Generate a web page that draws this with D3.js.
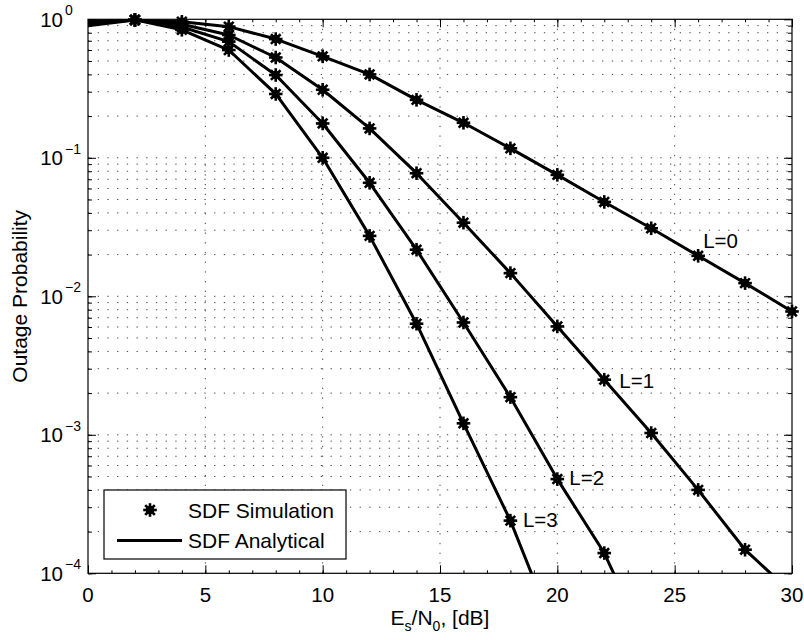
<!DOCTYPE html>
<html><head><meta charset="utf-8">
<script src="https://cdn.jsdelivr.net/npm/d3@7"></script>
<style>
body{margin:0;background:#fff}
text{font-family:"Liberation Sans",Arial,Helvetica,sans-serif;fill:#000}
</style>
</head><body>
<svg id="c" width="804" height="640"></svg>
<script>
// ---- data ----
const snrDb = [0, 2, 4, 6, 8, 10, 12, 14, 16, 18, 20, 22, 24, 26, 28, 30];
const outageL0 = [0.97, 0.99, 0.96, 0.885, 0.72, 0.54, 0.40, 0.262, 0.179, 0.117, 0.0753, 0.048, 0.031, 0.0196, 0.01245, 0.00777];
const outageL1 = [0.95, 0.99, 0.92, 0.77, 0.53, 0.31, 0.163, 0.0774, 0.034, 0.0147, 0.00606, 0.0025, 0.00103, 0.0004, 0.000148, 0.000072];
const outageL2 = [0.93, 0.99, 0.88, 0.69, 0.396, 0.177, 0.066, 0.0217, 0.00647, 0.00187, 0.000479, 0.00014, 0.000026, null, null, null];
const outageL3 = [0.90, 0.99, 0.84, 0.60, 0.289, 0.100, 0.0273, 0.00634, 0.00121, 0.00024, 0.000034, null, null, null, null, null];
const seriesLabels = ["L=0", "L=1", "L=2", "L=3"];
const labelAtSnr = [26, 22, 20, 18];
const xTickValues = [0, 5, 10, 15, 20, 25, 30];
const yTickExponents = [0, -1, -2, -3, -4];
const legendLabels = ["SDF Simulation", "SDF Analytical"];
const xAxisTitle = ["E", "s", "/N", "0", ", [dB]"];
const yAxisTitle = "Outage Probability";

// ---- layout ----
const svg = d3.select("#c");
const L = 88, R = 792, T = 19.3, B = 573.3;
const x = d3.scaleLinear().domain([0, 30]).range([L, R]);
const y = d3.scaleLog().domain([1e-4, 1]).range([B, T]);

svg.append("rect").attr("width", 804).attr("height", 640).attr("fill", "#fff");

// grid
const minorY = [];
for (let e = -4; e < 0; e++) for (let m = 1; m < 10; m++) minorY.push(m * Math.pow(10, e));
const g = svg.append("g");
g.selectAll("line.hy").data(minorY.filter(v => v > 1e-4 * 1.0001)).join("line")
  .attr("x1", L).attr("x2", R).attr("y1", d => y(d)).attr("y2", d => y(d))
  .attr("stroke", "#444").attr("stroke-width", 1).attr("stroke-dasharray", "1.3,8.4");
g.selectAll("line.vx").data(xTickValues.filter(v => v > 0 && v < 30)).join("line")
  .attr("y1", B).attr("y2", T).attr("x1", d => x(d)).attr("x2", d => x(d))
  .attr("stroke", "#444").attr("stroke-width", 1).attr("stroke-dasharray", "1.3,8.4");

// axes (ticks inward)
const minorX = d3.range(0, 31, 1);
function axisG(gen, tx, ty) {
  const a = svg.append("g").attr("transform", `translate(${tx},${ty})`).call(gen);
  a.select(".domain").remove();
  a.selectAll("text").remove();
  a.selectAll("line").attr("stroke", "#000");
  return a;
}
axisG(d3.axisBottom(x).tickValues(minorX).tickSize(-3).tickFormat(""), 0, B);
axisG(d3.axisTop(x).tickValues(minorX).tickSize(-3).tickFormat(""), 0, T);
axisG(d3.axisBottom(x).tickValues(xTickValues).tickSize(-8).tickFormat(""), 0, B);
axisG(d3.axisTop(x).tickValues(xTickValues).tickSize(-8).tickFormat(""), 0, T);
axisG(d3.axisLeft(y).tickValues(minorY).tickSize(-4).tickFormat(""), L, 0);
axisG(d3.axisRight(y).tickValues(minorY).tickSize(-4).tickFormat(""), R, 0);
const majorY = yTickExponents.map(e => Math.pow(10, e));
axisG(d3.axisLeft(y).tickValues(majorY).tickSize(-8).tickFormat(""), L, 0);
axisG(d3.axisRight(y).tickValues(majorY).tickSize(-8).tickFormat(""), R, 0);

svg.append("rect").attr("x", L).attr("y", T).attr("width", R - L).attr("height", B - T)
  .attr("fill", "none").attr("stroke", "#000").attr("stroke-width", 1.2);

// tick labels
svg.append("g").selectAll("text").data(xTickValues).join("text")
  .attr("x", d => x(d)).attr("y", 602).attr("text-anchor", "middle")
  .attr("font-size", 20.5).text(d => d);
const yl = svg.append("g").selectAll("g").data(yTickExponents).join("g");
yl.append("text").attr("x", 63).attr("y", d => y(Math.pow(10, d)) + 7.5)
  .attr("text-anchor", "end").attr("font-size", 20.5).text("10");
yl.append("text").attr("x", 65).attr("y", d => y(Math.pow(10, d)) - 4)
  .attr("text-anchor", "start").attr("font-size", 14).text(d => d === 0 ? "0" : "\u2212" + (-d));

// axis titles
const xt = svg.append("text").attr("x", x(15)).attr("y", 625).attr("text-anchor", "middle").attr("font-size", 21);
xAxisTitle.forEach((s, i) => {
  const sub = i % 2 === 1;
  xt.append("tspan").attr("font-size", sub ? 14 : 21)
    .attr("dy", sub ? 6 : (i > 0 ? -6 : 0)).text(s);
});
svg.append("text").attr("transform", `translate(27,${(T + B) / 2}) rotate(-90)`)
  .attr("text-anchor", "middle").attr("font-size", 21).text(yAxisTitle);

// series
const allSeries = [outageL0, outageL1, outageL2, outageL3].map((vals, i) => ({
  name: seriesLabels[i],
  pts: snrDb.map((s, j) => ({ x: s, v: vals[j] }))
}));
svg.append("clipPath").attr("id", "clip").append("rect")
  .attr("x", L).attr("y", T).attr("width", R - L).attr("height", B - T);
const line = d3.line().defined(d => d.v != null).x(d => x(d.x)).y(d => y(d.v));
svg.append("g").attr("clip-path", "url(#clip)").selectAll("path").data(allSeries).join("path")
  .attr("d", d => line(d.pts)).attr("fill", "none").attr("stroke", "#000")
  .attr("stroke-width", 3).attr("stroke-linejoin", "round");

function marker(sel) {
  sel.append("circle").attr("r", 4.3).attr("fill", "#000");
  [0, 45, 90, 135].forEach(a => {
    sel.append("line").attr("x1", -6.8).attr("x2", 6.8)
      .attr("transform", `rotate(${a})`).attr("stroke", "#000").attr("stroke-width", 2.6);
  });
}
allSeries.forEach(s => {
  svg.append("g").selectAll("g").data(s.pts.filter(p => p.v != null && p.x > 0 && p.v >= 1e-4)).join("g")
    .attr("transform", p => `translate(${x(p.x)},${y(p.v)})`).each(function () { marker(d3.select(this)); });
});

// curve labels
const labelOffsets = [[5, -8], [15, 8], [12, 6], [12.5, 6]];
allSeries.forEach((s, i) => {
  const p = s.pts.find(q => q.x === labelAtSnr[i]);
  svg.append("text").attr("x", x(p.x) + labelOffsets[i][0]).attr("y", y(p.v) + labelOffsets[i][1])
    .attr("font-size", 20.5).text(s.name);
});

// legend
const lg = svg.append("g");
lg.append("rect").attr("x", 104).attr("y", 490).attr("width", 242).attr("height", 69)
  .attr("fill", "#fff").attr("stroke", "#000").attr("stroke-width", 1.2);
const m1 = lg.append("g").attr("transform", "translate(150,510)");
marker(m1);
lg.append("line").attr("x1", 117).attr("x2", 182).attr("y1", 540.5).attr("y2", 540.5)
  .attr("stroke", "#000").attr("stroke-width", 3);
legendLabels.forEach((t, i) => {
  lg.append("text").attr("x", 188).attr("y", 517.5 + i * 30.5).attr("font-size", 21).text(t);
});
</script>
</body></html>
